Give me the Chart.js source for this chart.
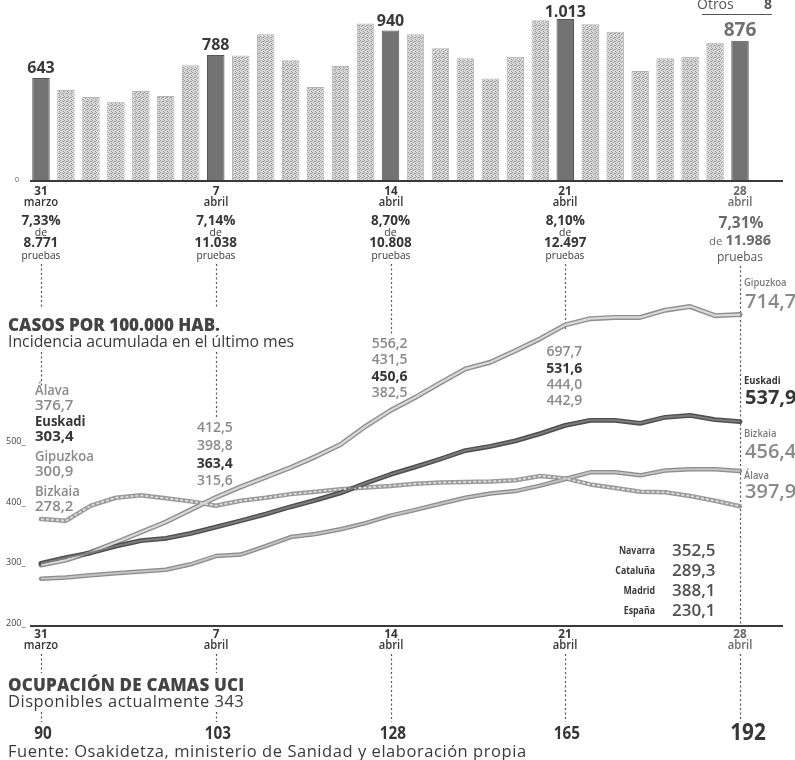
<!DOCTYPE html>
<html lang="es"><head><meta charset="utf-8">
<title>Casos por 100.000 habitantes</title>
<script src="https://cdn.jsdelivr.net/npm/chart.js@4.4.1/dist/chart.umd.min.js"></script>
<style>
html,body{margin:0;padding:0;background:#fff}
#wrap{position:relative;width:795px;height:760px;overflow:hidden;background:#fff}
#c{position:absolute;left:0;top:0}
.t{position:absolute;white-space:nowrap;font-family:"Open Sans","Noto Sans",sans-serif}
</style></head><body>
<div id="wrap"><canvas id="c" width="795" height="760"></canvas></div>
<script>
// ---------- DATA ----------
const dayLabels = ['31 marzo','1 abril','2 abril','3 abril','4 abril','5 abril','6 abril','7 abril','8 abril','9 abril','10 abril','11 abril','12 abril','13 abril','14 abril','15 abril','16 abril','17 abril','18 abril','19 abril','20 abril','21 abril','22 abril','23 abril','24 abril','25 abril','26 abril','27 abril','28 abril'];
const dailyCases = [643,569,525,496,562,531,723,788,785,917,754,587,719,985,940,917,829,767,640,777,1004,1013,979,933,688,767,777,864,876];
const gipuzkoa = [300.9,309,322,338,355,372,392,412.5,430,446,462,480,500,530,556.2,578,602,625,636,655,675,697.7,708,710,710,722,728,713,714.7];
const euskadi  = [303.4,313,321,332,341,345,353,363.4,374,385,397,408,420,436,450.6,463,476,490,497,506,518,531.6,540,540,535,545,548,541,537.9];
const bizkaia  = [278.2,280,284,287,290,293,302,315.6,318,332,347,352,360,370,382.5,392,402,412,419,423,432,442.9,454,454,449,457,459,459,456.4];
const alava    = [376.7,374,399,412,416,411,406,398.8,407,412,418,422,426,429,431.5,435,437,438,439,441,448,444.0,434,428,422,421,415,407,397.9];
const tickIndex = [0,7,14,21,28];
const tickDay = ['31','7','14','21','28'];
const tickMonth = ['marzo','abril','abril','abril','abril'];
const positivity = [7.33,7.14,8.70,8.10,7.31];
const tests = [8771,11038,10808,12497,11986];
const uciBeds = [90,103,128,165,192];
const uciAvailable = 343;
const otrosValue = 8;
const otherRegions = ['Navarra','Cataluña','Madrid','España'];
const otherValues = [352.5,289.3,388.1,230.1];
const lineTicks = [500,400,300,200];

// ---------- helpers ----------
function fmt(v,d){
  const s=v.toFixed(d); const p=s.split('.');
  const a=p[0].replace(/\B(?=(\d{3})+(?!\d))/g,'.');
  return p[1]!==undefined? a+','+p[1] : a;
}
const DARK='#363636', GRAY='#8a8a8a';
const wrap=document.getElementById('wrap');
function T(html,x,y,o){
  o=o||{};
  const d=document.createElement('div'); d.className='t';
  d.innerHTML=html;
  const size=o.size||12;
  d.style.fontSize=size+'px'; d.style.lineHeight=size+'px';
  d.style.fontWeight=o.weight||400;
  d.style.color=o.color||DARK;
  d.style.left=x+'px'; d.style.top=(y-size/2)+'px';
  const al=o.align||'left';
  const tx= al==='center'?'-50%':(al==='right'?'-100%':'0');
  d.style.transformOrigin= al==='center'?'50% 50%':(al==='right'?'100% 50%':'0 50%');
  d.style.transform='translateX('+tx+')'+(o.sx?' scaleX('+o.sx+')':'');
  if(o.ls) d.style.letterSpacing=o.ls+'px';
  wrap.appendChild(d); return d;
}
function stipple(base,dot){
  const p=document.createElement('canvas'); p.width=4; p.height=4;
  const g=p.getContext('2d'); g.fillStyle=base; g.fillRect(0,0,4,4);
  g.fillStyle=dot; [[0,0],[2,1],[1,2],[3,3],[3,1]].forEach(a=>g.fillRect(a[0],a[1],1,1));
  return g.createPattern(p,'repeat');
}
const dotSegments=[
  [[264,309],[352,386],[654,673],[712,722]],
  [[264,309],[352,418],[654,673],[712,722]],
  [[264,336],[654,722]],
  [[264,330],[654,722]],
  [[266,626],[654,722]]
];
const decor={
  id:'decor',
  beforeDatasetsDraw(ch){
    const c=ch.ctx,x=ch.scales.x;
    c.save(); c.strokeStyle='#555'; c.lineWidth=1.2; c.setLineDash([2,2.5]);
    tickIndex.forEach((idx,k)=>{
      const px=Math.round(x.getPixelForValue(idx))+0.5;
      dotSegments[k].forEach(s=>{c.beginPath();c.moveTo(px,s[0]);c.lineTo(px,s[1]);c.stroke();});
    });
    c.restore();
  },
  afterDatasetsDraw(ch){
    const c=ch.ctx; c.save(); c.strokeStyle='#3a3a3a'; c.lineWidth=2;
    const y0=ch.scales.yBar.getPixelForValue(0);
    c.beginPath(); c.moveTo(30,y0); c.lineTo(783,y0); c.stroke();
    const y1=ch.scales.yLine.getPixelForValue(lineTicks[lineTicks.length-1]);
    c.beginPath(); c.moveTo(30,y1); c.lineTo(783,y1); c.stroke();
    c.restore();
  }
};
const lightBar=stipple('#dadada','#9c9c9c');
function lineDS(data,casing,inner,w1,w2,ord,dash){
  return [
    {type:'line',data:data,yAxisID:'yLine',borderColor:casing,borderWidth:w1,pointRadius:0,order:50+ord,tension:0,borderJoinStyle:'round',borderCapStyle:'round'},
    {type:'line',data:data,yAxisID:'yLine',borderColor:inner,borderWidth:w2,pointRadius:0,order:ord,tension:0,borderJoinStyle:'round',borderDash:dash||[]}
  ];
}
const datasets=[
  {type:'bar',data:dailyCases,yAxisID:'yBar',order:100,
   backgroundColor:dailyCases.map((v,i)=>tickIndex.includes(i)?'#737373':lightBar),
   borderColor:dailyCases.map((v,i)=>tickIndex.includes(i)?'#555':'#b5b5b5'),
   borderWidth:1,barPercentage:0.7,categoryPercentage:1}
].concat(
  lineDS(alava,'#9a9a9a','#dedede',4.5,1.8,3,[3,2]),
  lineDS(bizkaia,'#8c8c8c','#c2c2c2',4.5,2,2),
  lineDS(gipuzkoa,'#8e8e8e','#d8d8d8',5,2.2,1),
  lineDS(euskadi,'#4e4e4e','#7c7c7c',4.8,2,0)
);
const chart=new Chart(document.getElementById('c'),{
  data:{labels:dayLabels,datasets:datasets},
  options:{
    responsive:false,animation:false,events:[],
    layout:{padding:{left:28.5,right:42.5,top:8,bottom:134}},
    plugins:{legend:{display:false},tooltip:{enabled:false}},
    scales:{
      x:{type:'category',display:false,offset:true},
      yBar:{type:'linear',display:false,min:-2781.25,max:1081.25},
      yLine:{type:'linear',display:false,min:200,max:1221.5}
    }
  },
  plugins:[decor]
});

// ---------- texts ----------
const X=i=>chart.scales.x.getPixelForValue(i);
const YB=v=>chart.scales.yBar.getPixelForValue(v);
const YL=v=>chart.scales.yLine.getPixelForValue(v);

// Otros
T('Otros',697,4,{size:14,color:'#555'});
T(String(otrosValue),768,4,{size:14,weight:700,color:'#555',align:'center'});
const ul=document.createElement('div');
ul.style.cssText='position:absolute;left:702px;top:14px;width:70px;height:0;border-top:1.5px solid #555';
wrap.appendChild(ul);
T('0',17,179,{size:7,color:'#555',align:'center'});

tickIndex.forEach((idx,k)=>{
  const x=X(idx), last=k===tickIndex.length-1;
  const col=last?'#6a6a6a':DARK;
  // bar value
  const by=Math.max(11,YB(dailyCases[idx])-11);
  T(fmt(dailyCases[idx],0),x,by,{size:last?19:16,weight:700,color:last?'#707070':'#3a3a3a',align:'center'});
  // dates top and bottom
  [190,633].forEach(y=>{
    T(tickDay[k],x,y,{size:13,weight:700,color:col,align:'center',sx:0.9});
    T(tickMonth[k],x,y+12,{size:12.5,weight:600,color:col,align:'center',sx:0.9});
  });
  // positivity
  if(!last){
    T(fmt(positivity[k],2)+'%',x,221,{size:13.5,weight:700,color:DARK,align:'center'});
    T('de',x,232,{size:10.5,color:DARK,align:'center'});
    T(fmt(tests[k],0),x,243,{size:13.5,weight:700,color:DARK,align:'center'});
    T('pruebas',x,254,{size:11,color:DARK,align:'center',sx:0.92});
  } else {
    T(fmt(positivity[k],2)+'%',x+1,223,{size:15.5,weight:700,color:'#6a6a6a',align:'center'});
    T('<span style="font-size:11.5px;font-weight:400">de </span>'+fmt(tests[k],0),x,240,{size:14.5,weight:700,color:'#6a6a6a',align:'center'});
    T('pruebas',x,256,{size:13,color:'#555',align:'center',sx:0.92});
  }
  // UCI
  T(String(uciBeds[k]),last?x+8:x+2,last?731:732,{size:last?23:17,weight:700,color:DARK,align:'center',sx:0.9});
});

// line chart headings
T('CASOS POR 100.000 HAB.',8,324,{size:17,weight:800,color:'#444'});
T('Incidencia acumulada en el último mes',8,342,{size:15.8,color:'#3a3a3a'});
lineTicks.forEach(v=>T(v+'_',6,YL(v)-4,{size:9,color:'#444'}));

// series info
const series={gip:{name:'Gipuzkoa',data:gipuzkoa,dark:false},eus:{name:'Euskadi',data:euskadi,dark:true},
              biz:{name:'Bizkaia',data:bizkaia,dark:false},ala:{name:'Álava',data:alava,dark:false}};
// start labels (31 marzo)
[['ala',389],['eus',420],['gip',455],['biz',490]].forEach(a=>{
  const s=series[a[0]], c=s.dark?DARK:GRAY, w=s.dark?700:600;
  T(s.name,35,a[1],{size:15,weight:w,color:c,sx:0.87});
  T(fmt(s.data[0],1),35,a[1]+15,{size:15,weight:w,color:c});
});
// weekly labels
const weekLabelPos=[
  {idx:7,  ys:[427,445,463,480], order:['gip','ala','eus','biz']},
  {idx:14, ys:[343,359,376,392], order:['gip','ala','eus','biz']},
  {idx:21, ys:[351,368,384,400], order:['gip','eus','ala','biz']}
];
weekLabelPos.forEach(w=>{
  const x=X(w.idx)+17;
  w.order.forEach((key,j)=>{
    const s=series[key];
    T(fmt(s.data[w.idx],1),x,w.ys[j],{size:14,weight:s.dark?700:600,color:s.dark?DARK:GRAY,align:'right'});
  });
});
// end labels (28 abril)
const xe=X(28)+4;
[['gip',282,301],['eus',380,397],['biz',433,451],['ala',475,491]].forEach(a=>{
  const s=series[a[0]], c=s.dark?DARK:GRAY;
  T(s.name,xe,a[1],{size:10.5,weight:s.dark?700:600,color:s.dark?DARK:'#7a7a7a',sx:0.9});
  T(fmt(s.data[28],1),xe+1,a[2],{size:20,weight:s.dark?700:600,color:c});
});
// other regions
otherRegions.forEach((n,i)=>{
  const y=549+i*20;
  T(n,655,y,{size:11,weight:700,color:'#3a3a3a',align:'right',sx:0.8});
  T(fmt(otherValues[i],1),672,y,{size:17,weight:600,color:'#505050'});
});

// UCI
T('OCUPACIÓN DE CAMAS UCI',8,684,{size:17,weight:800,color:'#444',ls:0.2});
T('Disponibles actualmente '+uciAvailable,8,701,{size:16.5,color:'#3a3a3a',ls:0.5});
T('Fuente: Osakidetza, ministerio de Sanidad y elaboración propia',8,751,{size:16.5,color:'#3a3a3a',ls:0.55});
</script>
</body></html>
